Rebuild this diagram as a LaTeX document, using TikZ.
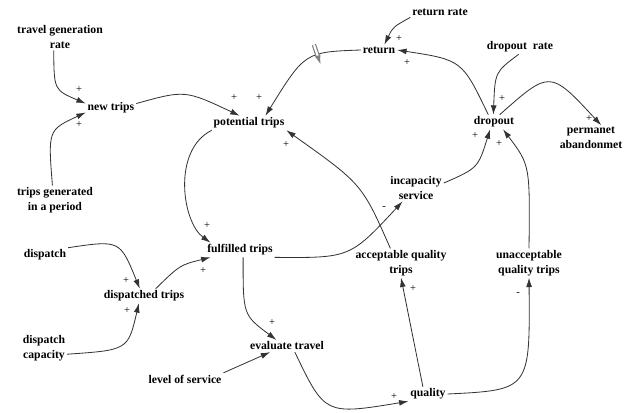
\documentclass[tikz,border=0pt]{standalone}
\usepackage{fontspec}
\setmainfont{Liberation Serif}
\usetikzlibrary{arrows.meta,decorations.markings}

\begin{document}
\begin{tikzpicture}[x=0.03cm, y=0.03cm, >={Latex[length=8pt,width=5pt]},
		var/.style={font=\fontsize{10}{12.5}\selectfont\bfseries, align=center, inner sep=1.5pt},
		sgn/.style={font=\fontsize{9}{9}\selectfont, inner sep=0pt},
		lnk/.style={->, line width=0.7pt, draw=black!80},
		delaymark/.style={postaction={decorate, decoration={markings,
			mark=at position #1 with {\draw[gray, line width=1pt, double distance=1.8pt] (0,-9pt) -- (0,9pt);}}}}]
	\useasboundingbox (0,0) rectangle (624,412);

	% Переменные
	\node[var] (tgr) at (60,375) {travel generation\\rate};
	\node[var] (ntrips) at (111,304) {new trips};
	\node[var] (tgp) at (55,212) {trips generated\\in a period};
	\node[var] (ptrips) at (249,289) {potential trips};
	\node[var] (ret) at (379,362) {return};
	\node[var] (rrate) at (440,400) {return rate};
	\node[var] (drate) at (520,365) {dropout\ \ rate};
	\node[var] (drop) at (494,290) {dropout};
	\node[var] (perm) at (591,274) {permanet\\abandonmet};
	\node[var] (incap) at (416,224) {incapacity\\service};
	\node[var] (ftrips) at (240,162) {fulfilled trips};
	\node[var] (disp) at (45,157) {dispatch};
	\node[var] (dtrips) at (144,116) {dispatched trips};
	\node[var] (dcap) at (44,64) {dispatch\\capacity};
	\node[var] (evtr) at (287,66) {evaluate travel};
	\node[var] (los) at (185,33) {level of service};
	\node[var] (acc) at (401,149) {acceptable quality\\trips};
	\node[var] (unacc) at (529,149) {unacceptable\\quality trips};
	\node[var] (qual) at (428,18) {quality};

	% Связи
	\draw[lnk] (tgr.-115) .. controls (54,322) .. (ntrips.170);
	\draw[lnk] (tgp.100) .. controls (48,282) .. (ntrips.190);
	\draw[lnk] (ntrips.10) .. controls (185,322) .. (ptrips.142);
	\draw[lnk, delaymark=0.35] (ret.west) .. controls (305,360) .. (ptrips.24);
	\draw[lnk] (rrate.south west) .. controls (393,385) .. (ret.45);
	\draw[lnk] (drop.128) .. controls (462,352) .. (ret.east);
	\draw[lnk] (drate.-100) .. controls (495,340) .. (drop.95);
	\draw[lnk] (drop.52) .. controls (550,342) .. (perm.51);
	\draw[lnk] (incap.10) .. controls (478,244) .. (drop.-118);
	\draw[lnk] (unacc.north) .. controls (530,247) .. (drop.-39);
	\draw[lnk] (ftrips.south east) .. controls (350,154) .. (incap.-135);
	\draw[lnk] (ptrips.south west) .. controls (172,262) and (182,190) .. (ftrips.166);
	\draw[lnk] (acc.126) .. controls (362,228) .. (ptrips.-11);
	\draw[lnk] (disp.north east) .. controls (120,172) .. (dtrips.120);
	\draw[lnk] (dcap.-15) .. controls (128,62) .. (dtrips.-125);
	\draw[lnk] (dtrips.32) .. controls (180,147) .. (ftrips.-166);
	\draw[lnk] (ftrips.-67) .. controls (243,97) .. (evtr.150);
	\draw[lnk] (los.north east) -- (evtr.-160);
	\draw[lnk] (evtr.-38) .. controls (325,-3) .. (qual.south west);
	\draw[lnk] (qual.125) -- (acc.south);
	\draw[lnk] (qual.east) .. controls (530,22) .. (unacc.south);

	% Знаки связей
	\foreach \sx/\sy/\sg [count=\i] in {79/322/+, 79/287/+, 234/314/+, 259/314/+, 399/373/+,
			407/349/+, 502/313/+, 589/293/+, 475/276/+, 499/268/+, 384/204/-, 207/186/+,
			286/267/+, 126/131/+, 127/101/+, 203/141/+, 272/89/+, 394/15/+, 413/123/+, 518/118/-}
		\node[sgn] (s\i) at (\sx,\sy) {\sg};
\end{tikzpicture}
\end{document}
